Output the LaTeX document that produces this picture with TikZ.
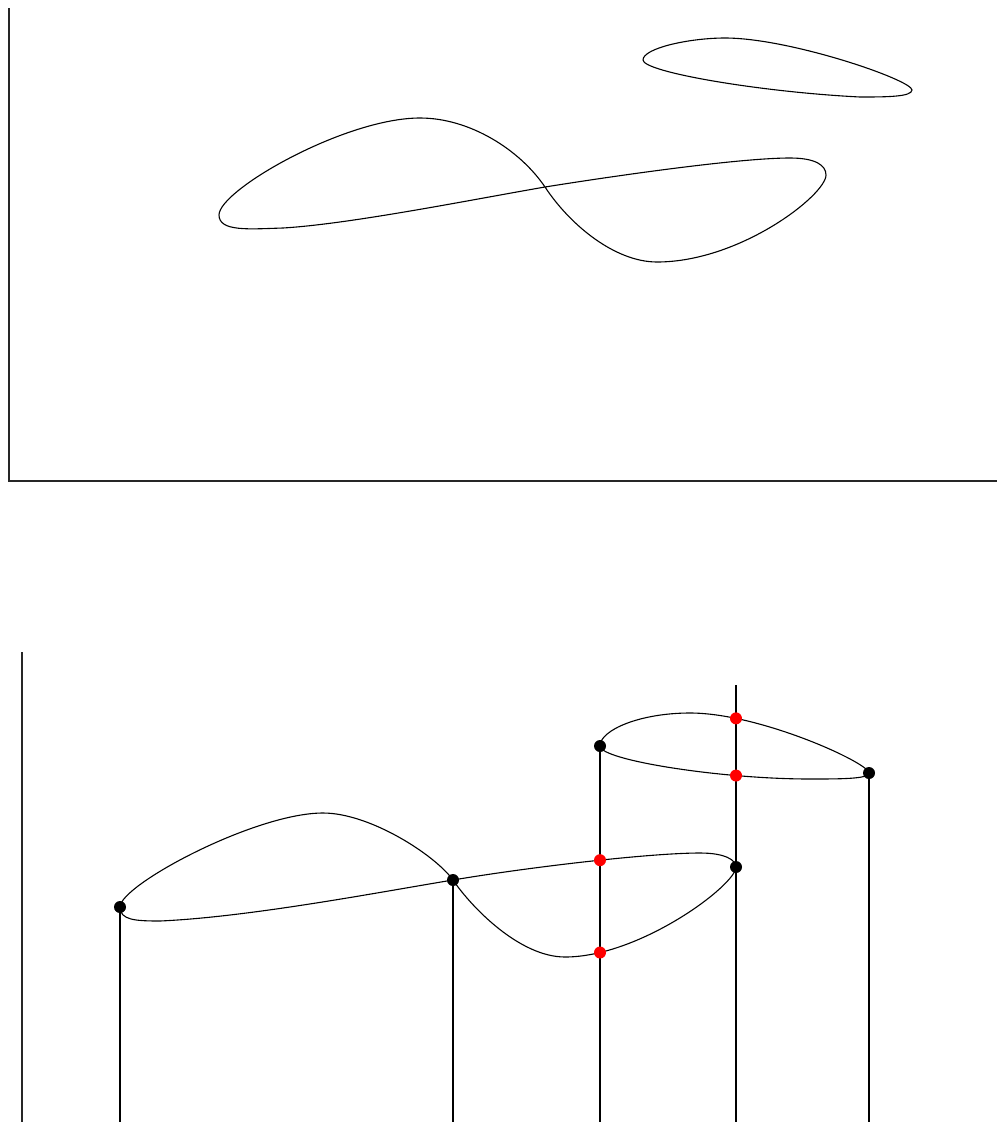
\documentclass[tikz,border=0pt]{standalone}
\usetikzlibrary{intersections}
\begin{document}
\begin{tikzpicture}[x=1pt,y=-1pt,
  axis/.style={line width=1.8pt, black!85},
  curve/.style={line width=1.1pt},
  vline/.style={line width=1.3pt},
  bdot/.style={circle, fill=black, inner sep=0pt, minimum size=12pt},
  rdot/.style={circle, fill=red, inner sep=0pt, minimum size=12pt}]
\useasboundingbox (0,0) rectangle (999,1122);
% ---------- top panel ----------
\coordinate (tA) at (9,8);
\coordinate (tO) at (9,481);
\coordinate (tB) at (997,481);
\draw[axis] (tA) -- (tO) -- (tB);
% figure-eight curve
\draw[curve] (545,187) .. controls (520,150) and (470,118) .. (420,118)
  .. controls (345,118) and (219,190) .. (219,215)
  .. controls (219,232) and (250,229) .. (283,228)
  .. controls (350,224) and (470,200) .. (545,187)
  .. controls (620,175) and (740,158) .. (790,158)
  .. controls (815,158) and (826,165) .. (826,175)
  .. controls (826,195) and (740,262) .. (657,262)
  .. controls (615,262) and (570,225) .. cycle;
% small loop
\draw[curve] (643,60) .. controls (643,48) and (690,38) .. (725,38)
  .. controls (790,38) and (912,80) .. (912,90)
  .. controls (912,97) and (885,97) .. (860,97)
  .. controls (760,92) and (643,72) .. cycle;
% ---------- bottom panel ----------
\coordinate (bA) at (22,652);
\coordinate (bO) at (22,1122);
\draw[axis] (bA) -- (bO);
\draw[curve, name path=feB] (453,880) .. controls (435,855) and (370,813) .. (323,813)
  .. controls (255,813) and (120,885) .. (120,907)
  .. controls (120,920) and (135,921) .. (160,921)
  .. controls (250,917) and (380,892) .. (453,880)
  .. controls (530,867) and (650,853) .. (700,853)
  .. controls (725,853) and (736,860) .. (736,867)
  .. controls (736,885) and (640,957) .. (565,957)
  .. controls (520,957) and (472,908) .. cycle;
\draw[curve, name path=loopB] (600,746) .. controls (600,730) and (640,713) .. (690,713)
  .. controls (760,713) and (869,763) .. (869,773)
  .. controls (869,779) and (840,779) .. (810,779)
  .. controls (720,779) and (600,760) .. cycle;
% event points
\coordinate (cL) at (120,907);
\coordinate (cX) at (453,880);
\coordinate (cR) at (736,867);
\coordinate (dL) at (600,746);
\coordinate (dR) at (869,773);
\coordinate (vtop) at (736,685);
\coordinate (eL) at (120,1122);
\coordinate (eX) at (453,1122);
\coordinate (eD) at (600,1122);
\coordinate (eR) at (736,1122);
\coordinate (eQ) at (869,1122);
\draw[vline] (cL) -- (eL);
\draw[vline] (cX) -- (eX);
\draw[vline, name path=v600] (dL) -- (eD);
\draw[vline, name path=v736] (vtop) -- (eR);
\draw[vline] (dR) -- (eQ);
\path[name intersections={of=feB and v600, by={ra,rb}}];
\path[name intersections={of=loopB and v736, by={rc,rd}}];
\node[bdot] (pL) at (cL) {};
\node[bdot] (pX) at (cX) {};
\node[bdot] (pR) at (cR) {};
\node[bdot] (qL) at (dL) {};
\node[bdot] (qR) at (dR) {};
\node[rdot] (r1) at (ra) {};
\node[rdot] (r2) at (rb) {};
\node[rdot] (r3) at (rc) {};
\node[rdot] (r4) at (rd) {};
\end{tikzpicture}
\end{document}
